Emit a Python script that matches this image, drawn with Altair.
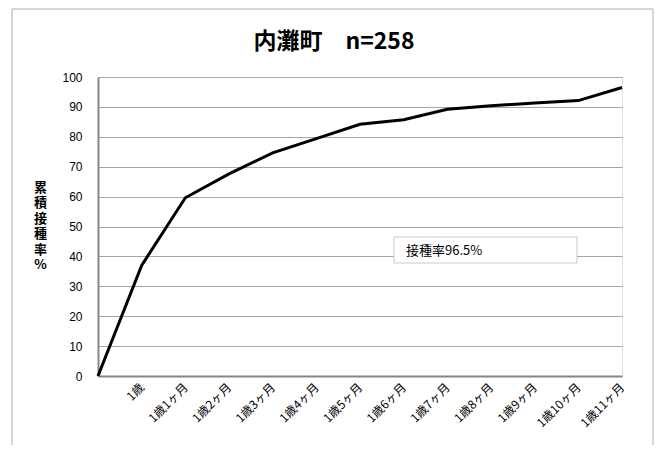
import altair as alt
import pandas as pd

categories = ["", "1歳", "1歳1ヶ月", "1歳2ヶ月", "1歳3ヶ月", "1歳4ヶ月", "1歳5ヶ月",
              "1歳6ヶ月", "1歳7ヶ月", "1歳8ヶ月", "1歳9ヶ月", "1歳10ヶ月", "1歳11ヶ月"]
rates = [0, 37.0, 59.6, 67.6, 74.6, 79.4, 84.2, 85.7, 89.2, 90.4, 91.3, 92.1, 96.5]
y_ticks = list(range(0, 101, 10))
title_text = "内灘町　n=258"
note_text = "接種率96.5%"
y_title = ["累", "積", "接", "種", "率", "%"]

df = pd.DataFrame({"idx": list(range(len(categories))), "cat": categories, "rate": rates})

label_js = "[" + ",".join("'" + c + "'" for c in categories) + "]"

W, H = 524, 299
JP = "Noto Sans CJK JP"
one = pd.DataFrame({"a": [0]})

line = alt.Chart(df).mark_line(color="black", strokeWidth=3).encode(
    x=alt.X("idx:Q",
            scale=alt.Scale(domain=[0, len(categories) - 1], nice=False, zero=False),
            axis=alt.Axis(values=list(range(1, len(categories))),
                          labelExpr=label_js + "[datum.value]",
                          labelAngle=-45, labelAlign="right", labelBaseline="middle",
                          labelPadding=9, labelOverlap=False, labelBound=False,
                          ticks=False, grid=False, title=None,
                          domainColor="#868686", domainWidth=2,
                          labelFont=JP, labelFontSize=12, labelColor="black")),
    y=alt.Y("rate:Q",
            scale=alt.Scale(domain=[0, 100], nice=False),
            axis=alt.Axis(values=y_ticks, ticks=False, grid=True, gridColor="#a6a6a6",
                          gridWidth=1.2, domainColor="#868686", domainWidth=2,
                          labelFont="Liberation Sans", labelFontSize=12, labelColor="black",
                          labelPadding=16,
                          title=y_title, titleAngle=0, titleX=-58, titleY=104,
                          titleBaseline="top", titleAlign="center", titleFont=JP,
                          titleFontSize=13, titleFontWeight="bold", titleLineHeight=15.5,
                          titleColor="black")),
)

frame_v = alt.Chart(pd.DataFrame({"a": [0, 1]})).mark_rule(
    color="#c8c8c8", strokeWidth=1.5, clip=False).encode(
    x=alt.X("a:Q", scale=alt.Scale(domain=[0, 1], range=[12 - 98, 653 - 98]), axis=None),
    y=alt.value(9 - 77), y2=alt.value(470 - 77))

frame_h = alt.Chart(one).mark_rule(color="#c8c8c8", strokeWidth=1.5, clip=False).encode(
    x=alt.value(12 - 98), x2=alt.value(653 - 98), y=alt.value(9 - 77))

title = alt.Chart(pd.DataFrame({"t": [title_text]})).mark_text(
    align="center", baseline="middle", font=JP, fontSize=23, fontWeight="bold",
    color="black", clip=False).encode(
    x=alt.value(334 - 98), y=alt.value(42 - 77), text="t:N")

note_box = alt.Chart(one).mark_rect(
    fill="white", stroke="#c8c8c8", strokeWidth=1).encode(
    x=alt.value(296), x2=alt.value(479), y=alt.value(160), y2=alt.value(186))

note = alt.Chart(pd.DataFrame({"t": [note_text]})).mark_text(
    align="left", baseline="middle", font=JP, fontSize=13, color="black").encode(
    x=alt.value(308), y=alt.value(174), text="t:N")

chart = alt.layer(frame_v, frame_h, line, note_box, note, title).resolve_scale(
    x="independent").properties(
    width=W, height=H,
    autosize=alt.AutoSizeParams(type="none"),
    padding={"left": 90, "top": 69, "right": 33, "bottom": 69},
).configure_view(stroke=None).configure(background="white")

chart.save("out.html", embed_options={"renderer": "svg", "actions": False})
